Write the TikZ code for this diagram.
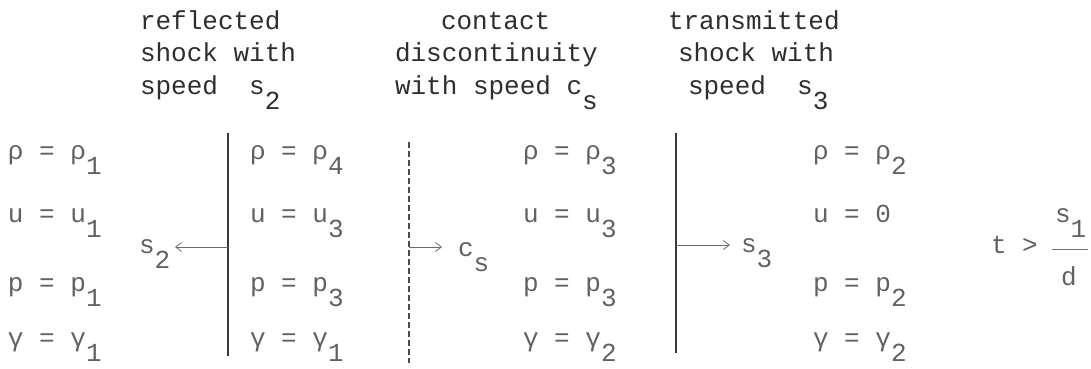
\documentclass[tikz,border=0pt]{standalone}
\usepackage{fontspec}
\setmainfont{Liberation Mono}
\usetikzlibrary{arrows.meta}
\newcommand\lo[1]{\raisebox{-15pt}{#1}}
\begin{document}
\begin{tikzpicture}[x=1pt,y=-1pt,
  every node/.style={inner sep=0pt,outer sep=0pt,font=\fontsize{26}{32}\selectfont},
  ttl/.style={anchor=base west,text=black!82},
  val/.style={anchor=base west,text=black!62},
  wave/.style={draw=black!78,line width=1.2pt},
  contactline/.style={draw=black!70,line width=1.1pt,dash pattern=on 6pt off 3pt},
  spd/.style={draw=black!58,line width=0.8pt,-{Straight Barb[length=6pt,width=9pt]}},
  fracbar/.style={draw=black!55,line width=0.8pt},
]
\useasboundingbox (0,0) rectangle (1091,368);

% titles
\node[ttl] (t1a) at (140,29) {reflected};
\node[ttl] (t1b) at (140,61) {shock with};
\node[ttl] (t1c) at (140,94) {speed~~s\lo{2}};
\node[ttl] (t2a) at (441,29) {contact};
\node[ttl] (t2b) at (395,61) {discontinuity};
\node[ttl] (t2c) at (395,94) {with speed c\lo{s}};
\node[ttl] (t3a) at (668,29) {transmitted};
\node[ttl] (t3b) at (678,61) {shock with};
\node[ttl] (t3c) at (688,94) {speed~~s\lo{3}};

% states
\node[val] (a1) at (8,159) {ρ = ρ\lo{1}};
\node[val] (a2) at (8,222) {u = u\lo{1}};
\node[val] (a3) at (8,291) {p = p\lo{1}};
\node[val] (a4) at (8,346) {γ = γ\lo{1}};
\node[val] (b1) at (250,159) {ρ = ρ\lo{4}};
\node[val] (b2) at (250,222) {u = u\lo{3}};
\node[val] (b3) at (250,291) {p = p\lo{3}};
\node[val] (b4) at (250,346) {γ = γ\lo{1}};
\node[val] (c1) at (523,159) {ρ = ρ\lo{3}};
\node[val] (c2) at (523,222) {u = u\lo{3}};
\node[val] (c3) at (523,291) {p = p\lo{3}};
\node[val] (c4) at (523,346) {γ = γ\lo{2}};
\node[val] (d1) at (813,159) {ρ = ρ\lo{2}};
\node[val] (d2) at (813,222) {u = 0};
\node[val] (d3) at (813,291) {p = p\lo{2}};
\node[val] (d4) at (813,346) {γ = γ\lo{2}};

% waves
\coordinate (w1top) at (228,133);
\coordinate (w1bot) at (228,356);
\coordinate (w2top) at (409,142);
\coordinate (w2bot) at (409,363);
\coordinate (w3top) at (676,133);
\coordinate (w3bot) at (676,353);
\draw[wave] (w1top) -- (w1bot);
\draw[contactline] (w2top) -- (w2bot);
\draw[wave] (w3top) -- (w3bot);

% speed arrows
\coordinate (w1mid) at (228,247);
\coordinate (s2end) at (175,247);
\coordinate (w2mid) at (409,247);
\coordinate (csend) at (442,247);
\coordinate (w3mid) at (676,245);
\coordinate (s3end) at (730,245);
\draw[spd] (w1mid) -- (s2end);
\draw[spd] (w2mid) -- (csend);
\draw[spd] (w3mid) -- (s3end);
\node[val] (s2) at (139,253) {s\lo{2}};
\node[val] (cs) at (458,256) {c\lo{s}};
\node[val] (s3) at (741,252) {s\lo{3}};

% time condition
\node[val] (tt) at (991,253) {t >};
\node[val] (num) at (1055,222) {s\lo{1}};
\node[val] (den) at (1061,285) {d};
\coordinate (fbl) at (1052,249);
\coordinate (fbr) at (1088,249);
\draw[fracbar] (fbl) -- (fbr);
\end{tikzpicture}
\end{document}
